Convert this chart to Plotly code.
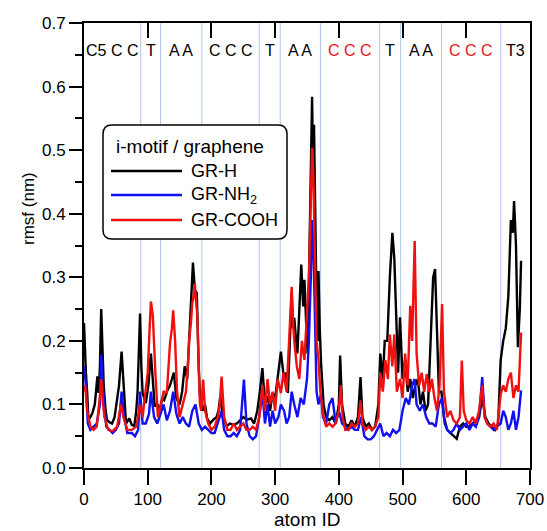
import plotly.graph_objects as go

# RMSF per atom (nm) for the i-motif on three graphene surfaces: (atom ID, rmsf)
gr_h = [
    (0, 0.228), (1, 0.197), (3, 0.15), (5, 0.118), (7, 0.076), (10, 0.08), (13, 0.086), (17, 0.1),
    (21, 0.144), (23, 0.118), (25, 0.16), (27, 0.25), (29, 0.2), (31, 0.128), (34, 0.09), (36, 0.076),
    (40, 0.072), (44, 0.07), (48, 0.08), (52, 0.107), (55, 0.13), (59, 0.183), (62, 0.128), (66, 0.07),
    (71, 0.078), (75, 0.068), (79, 0.066), (82, 0.09), (84, 0.118), (86, 0.17), (88, 0.243), (90, 0.16),
    (92, 0.118), (97, 0.102), (101, 0.13), (105, 0.18), (108, 0.14), (111, 0.097), (115, 0.1), (119, 0.092),
    (123, 0.11), (126, 0.107), (130, 0.12), (135, 0.13), (138, 0.14), (141, 0.15), (145, 0.11), (150, 0.1),
    (154, 0.12), (158, 0.16), (162, 0.14), (165, 0.2), (168, 0.26), (171, 0.323), (174, 0.28), (177, 0.275),
    (180, 0.16), (182, 0.113), (186, 0.09), (190, 0.1), (193, 0.079), (198, 0.07), (203, 0.076), (208, 0.08),
    (211, 0.09), (214, 0.113), (218, 0.08), (224, 0.066), (229, 0.07), (234, 0.068), (240, 0.07), (245, 0.075),
    (250, 0.08), (256, 0.076), (262, 0.078), (267, 0.07), (272, 0.09), (276, 0.12), (280, 0.157), (284, 0.1),
    (288, 0.113), (292, 0.09), (296, 0.118), (300, 0.11), (304, 0.14), (309, 0.183), (314, 0.139), (317, 0.15),
    (320, 0.118), (323, 0.2), (326, 0.275), (328, 0.22), (330, 0.236), (333, 0.2), (335, 0.18), (338, 0.25),
    (341, 0.32), (344, 0.254), (346, 0.296), (349, 0.22), (351, 0.18), (354, 0.35), (356, 0.47), (358, 0.584),
    (359, 0.5), (361, 0.54), (363, 0.4), (365, 0.25), (367, 0.2), (368, 0.31), (370, 0.22), (372, 0.166),
    (376, 0.1), (380, 0.08), (385, 0.075), (390, 0.08), (395, 0.07), (400, 0.1), (402, 0.177), (405, 0.1),
    (410, 0.07), (415, 0.065), (420, 0.075), (425, 0.065), (430, 0.08), (434, 0.143), (437, 0.08), (442, 0.065),
    (447, 0.07), (452, 0.06), (457, 0.065), (462, 0.1), (465, 0.18), (469, 0.14), (472, 0.2), (476, 0.2),
    (480, 0.3), (484, 0.37), (487, 0.33), (490, 0.24), (493, 0.15), (496, 0.237), (500, 0.14), (504, 0.17),
    (508, 0.12), (512, 0.14), (516, 0.11), (520, 0.13), (524, 0.14), (528, 0.1), (532, 0.12), (536, 0.09),
    (540, 0.1), (544, 0.2), (548, 0.3), (551, 0.313), (554, 0.2), (557, 0.12), (561, 0.12), (565, 0.08),
    (570, 0.06), (575, 0.055), (580, 0.05), (585, 0.046), (590, 0.065), (595, 0.07), (600, 0.065), (605, 0.065),
    (610, 0.07), (615, 0.075), (620, 0.08), (625, 0.11), (630, 0.08), (635, 0.07), (640, 0.065), (645, 0.06),
    (650, 0.07), (654, 0.17), (658, 0.2), (662, 0.22), (666, 0.27), (670, 0.39), (673, 0.37), (675, 0.42),
    (678, 0.35), (681, 0.19), (684, 0.25), (686, 0.326),
]

gr_nh2 = [
    (0, 0.16), (3, 0.13), (6, 0.07), (10, 0.06), (15, 0.065), (20, 0.07), (25, 0.1), (27, 0.178),
    (30, 0.12), (35, 0.065), (40, 0.06), (45, 0.055), (50, 0.06), (55, 0.07), (59, 0.12), (63, 0.08),
    (68, 0.055), (75, 0.055), (80, 0.05), (85, 0.06), (88, 0.12), (92, 0.07), (97, 0.07), (102, 0.085),
    (105, 0.12), (110, 0.08), (115, 0.07), (120, 0.085), (125, 0.1), (130, 0.075), (135, 0.09), (140, 0.12),
    (145, 0.085), (150, 0.07), (155, 0.08), (160, 0.07), (165, 0.065), (170, 0.09), (175, 0.1), (180, 0.07),
    (185, 0.06), (190, 0.065), (195, 0.06), (200, 0.055), (205, 0.055), (210, 0.07), (216, 0.09), (220, 0.06),
    (225, 0.05), (230, 0.05), (235, 0.055), (240, 0.05), (245, 0.06), (251, 0.139), (255, 0.07), (260, 0.05),
    (265, 0.045), (270, 0.05), (275, 0.08), (280, 0.12), (284, 0.07), (288, 0.1), (292, 0.065), (296, 0.09),
    (300, 0.07), (305, 0.08), (309, 0.1), (314, 0.09), (318, 0.07), (322, 0.08), (326, 0.12), (330, 0.1),
    (335, 0.08), (340, 0.11), (345, 0.1), (350, 0.14), (353, 0.2), (356, 0.3), (358, 0.39), (360, 0.35),
    (362, 0.25), (365, 0.12), (368, 0.1), (372, 0.116), (375, 0.08), (380, 0.07), (385, 0.1), (390, 0.11),
    (395, 0.07), (400, 0.09), (405, 0.07), (410, 0.065), (415, 0.06), (420, 0.065), (425, 0.06), (430, 0.06),
    (435, 0.08), (440, 0.05), (445, 0.045), (450, 0.045), (455, 0.05), (460, 0.06), (465, 0.07), (470, 0.05),
    (475, 0.055), (480, 0.05), (485, 0.06), (490, 0.055), (495, 0.06), (500, 0.09), (505, 0.11), (510, 0.1),
    (515, 0.13), (519, 0.14), (522, 0.1), (527, 0.09), (532, 0.1), (537, 0.08), (542, 0.07), (547, 0.07),
    (552, 0.065), (557, 0.1), (562, 0.11), (566, 0.07), (570, 0.06), (575, 0.055), (580, 0.06), (585, 0.07),
    (590, 0.06), (595, 0.065), (600, 0.07), (605, 0.06), (610, 0.07), (615, 0.065), (620, 0.08), (625, 0.143),
    (629, 0.08), (633, 0.07), (638, 0.065), (643, 0.06), (648, 0.065), (654, 0.07), (658, 0.09), (662, 0.08),
    (666, 0.06), (670, 0.07), (674, 0.09), (678, 0.06), (682, 0.08), (686, 0.122),
]

gr_cooh = [
    (0, 0.12), (2, 0.13), (5, 0.09), (10, 0.065), (15, 0.06), (20, 0.065), (25, 0.113), (27, 0.14),
    (30, 0.1), (32, 0.08), (38, 0.06), (45, 0.058), (52, 0.065), (58, 0.1), (62, 0.08), (68, 0.06),
    (75, 0.06), (82, 0.065), (88, 0.1), (92, 0.08), (95, 0.107), (100, 0.15), (103, 0.22), (105, 0.262),
    (108, 0.24), (110, 0.19), (112, 0.15), (116, 0.08), (120, 0.1), (125, 0.12), (130, 0.118), (133, 0.16),
    (135, 0.196), (138, 0.22), (140, 0.248), (143, 0.2), (146, 0.12), (150, 0.08), (155, 0.1), (160, 0.12),
    (163, 0.16), (165, 0.2), (168, 0.23), (170, 0.26), (172, 0.27), (174, 0.29), (176, 0.26), (178, 0.24),
    (180, 0.16), (182, 0.1), (184, 0.09), (187, 0.139), (190, 0.09), (195, 0.07), (200, 0.06), (205, 0.065),
    (210, 0.08), (213, 0.1), (216, 0.144), (218, 0.1), (220, 0.08), (225, 0.06), (230, 0.06), (235, 0.07),
    (240, 0.06), (245, 0.065), (250, 0.07), (255, 0.06), (260, 0.06), (265, 0.065), (270, 0.06), (275, 0.08),
    (280, 0.13), (284, 0.09), (288, 0.14), (292, 0.1), (296, 0.12), (300, 0.09), (304, 0.14), (309, 0.118),
    (313, 0.15), (318, 0.12), (322, 0.2), (324, 0.25), (326, 0.285), (328, 0.23), (330, 0.2), (334, 0.16),
    (338, 0.14), (340, 0.17), (342, 0.2), (346, 0.17), (350, 0.24), (353, 0.3), (356, 0.42), (358, 0.504),
    (360, 0.46), (362, 0.35), (365, 0.2), (368, 0.17), (371, 0.12), (376, 0.08), (380, 0.065), (385, 0.07),
    (390, 0.065), (395, 0.07), (400, 0.09), (403, 0.13), (406, 0.08), (410, 0.06), (415, 0.06), (420, 0.07),
    (425, 0.065), (430, 0.07), (434, 0.106), (437, 0.07), (442, 0.06), (447, 0.065), (452, 0.06), (457, 0.065),
    (462, 0.08), (465, 0.15), (469, 0.12), (473, 0.17), (477, 0.14), (480, 0.21), (484, 0.16), (487, 0.21),
    (491, 0.12), (496, 0.14), (500, 0.11), (504, 0.18), (508, 0.13), (512, 0.255), (515, 0.2), (519, 0.357),
    (522, 0.18), (526, 0.13), (530, 0.15), (534, 0.12), (538, 0.148), (542, 0.12), (546, 0.14), (550, 0.11),
    (554, 0.09), (558, 0.13), (562, 0.258), (565, 0.12), (570, 0.08), (575, 0.09), (580, 0.075), (585, 0.07),
    (590, 0.08), (593, 0.169), (596, 0.09), (600, 0.075), (605, 0.07), (610, 0.08), (615, 0.07), (620, 0.09),
    (625, 0.13), (629, 0.08), (633, 0.07), (638, 0.065), (643, 0.07), (648, 0.06), (654, 0.116), (658, 0.13),
    (662, 0.12), (666, 0.14), (670, 0.15), (674, 0.11), (678, 0.13), (682, 0.12), (686, 0.213),
]

# nucleotide boundaries (atom ID) and the residue groups between them
boundaries = [89, 120, 185, 275, 308, 371, 464, 497, 561, 654]
residues = ["C5 C C", "T", "A A", "C C C", "T", "A A", "C C C", "T", "A A", "C C C", "T3"]
residue_colors = ["black", "black", "black", "black", "black", "black", "#e8141c", "black", "black", "#e8141c", "black"]

series = [
    ("GR-H", gr_h, "#000000"),
    ("GR-NH<sub>2</sub>", gr_nh2, "#1010f0"),
    ("GR-COOH", gr_cooh, "#f01010"),
]

FONT = "Liberation Sans, Arial, sans-serif"
X_MAX, Y_MAX = 700, 0.7
W, H = 547, 531
L, R, T, B = 84, 17, 23, 63

fig = go.Figure()
for name, pts, color in series:
    fig.add_trace(go.Scatter(
        x=[p[0] for p in pts], y=[p[1] for p in pts], mode="lines", name=name,
        line=dict(color=color, width=2.4), showlegend=False,
    ))

# empty trace so the top mirror axis is drawn
fig.add_trace(go.Scatter(x=[None], y=[None], xaxis="x2", showlegend=False, hoverinfo="skip"))

shapes = []
for b in boundaries:
    shapes.append(dict(type="line", xref="x", yref="paper", x0=b, x1=b, y0=0, y1=1,
                       line=dict(color="#adc5e8", width=1), layer="below"))

annotations = []
edges = [0] + boundaries + [X_MAX]
for i, (txt, col) in enumerate(zip(residues, residue_colors)):
    annotations.append(dict(x=(edges[i] + edges[i + 1]) / 2, y=0.657, xref="x", yref="y",
                            xanchor="center", yanchor="middle",
                            text=txt, showarrow=False, font=dict(family=FONT, size=16, color=col)))

# legend panel drawn in pixel units converted to paper coordinates
pw, ph = W - L - R, H - T - B
def px(x):
    return (x - L) / pw
def py(y):
    return (H - B - y) / ph

bx0, bx1, by0, by1, rad = 103, 287, 125, 239, 9
x0, x1, y0, y1 = px(bx0), px(bx1), py(by0), py(by1)
rx, ry = rad / pw, rad / ph
path = (f"M{x0 + rx},{y0} L{x1 - rx},{y0} Q{x1},{y0} {x1},{y0 - ry} "
        f"L{x1},{y1 + ry} Q{x1},{y1} {x1 - rx},{y1} L{x0 + rx},{y1} "
        f"Q{x0},{y1} {x0},{y1 + ry} L{x0},{y0 - ry} Q{x0},{y0} {x0 + rx},{y0} Z")
shapes.append(dict(type="path", xref="paper", yref="paper", path=path,
                   fillcolor="white", line=dict(color="black", width=1.5), layer="above"))

annotations.append(dict(x=px(114), y=py(146), xref="paper", yref="paper",
                        xanchor="left", yanchor="middle",
                        text="i-motif / graphene", showarrow=False,
                        font=dict(family=FONT, size=19, color="black")))
for (name, _, color), yy in zip(series, [171, 195, 220]):
    shapes.append(dict(type="line", xref="paper", yref="paper", x0=px(111), x1=px(182),
                       y0=py(yy), y1=py(yy), line=dict(color=color, width=2.4), layer="above"))
    annotations.append(dict(x=px(189), y=py(yy), xref="paper", yref="paper",
                            xanchor="left", yanchor="middle",
                            text=name, showarrow=False, font=dict(family=FONT, size=18, color="black")))

# axis titles
annotations.append(dict(x=px(28), y=py(209), xref="paper", yref="paper", text="rmsf (nm)",
                        xanchor="center", yanchor="middle",
                        textangle=-90, showarrow=False, font=dict(family=FONT, size=17, color="black")))
annotations.append(dict(x=px(307), y=py(519), xref="paper", yref="paper", text="atom ID",
                        xanchor="center", yanchor="middle",
                        showarrow=False, font=dict(family=FONT, size=19, color="black")))

fig.update_layout(
    width=W, height=H, margin=dict(l=L, r=R, t=T, b=B, pad=0),
    paper_bgcolor="white", plot_bgcolor="white",
    font=dict(family=FONT, size=17, color="black"),
    shapes=shapes, annotations=annotations,
    xaxis=dict(range=[0, X_MAX], tickvals=list(range(0, 701, 100)), ticks="outside", ticklen=15,
               tickwidth=2, tickcolor="black", showline=True, linewidth=2, linecolor="black",
               mirror=False, showgrid=False, zeroline=False, automargin=False),
    xaxis2=dict(overlaying="x", side="top", range=[0, X_MAX], tickvals=list(range(0, 701, 100)),
                ticks="inside", ticklen=15, tickwidth=2, tickcolor="black", showline=True,
                linewidth=2, linecolor="black", showticklabels=False, showgrid=False,
                zeroline=False, automargin=False),
    yaxis=dict(range=[0, Y_MAX], tickvals=[i / 10 for i in range(8)], tickformat=".1f",
               ticks="outside", ticklen=13, tickwidth=2, tickcolor="black",
               minor=dict(tickvals=[0.05 + i / 10 for i in range(7)], ticks="outside", ticklen=7,
                          tickwidth=2, tickcolor="black"),
               showline=True, linewidth=2, linecolor="black", mirror=True,
               showgrid=False, zeroline=False, automargin=False),
)

fig.write_html("out.html")
